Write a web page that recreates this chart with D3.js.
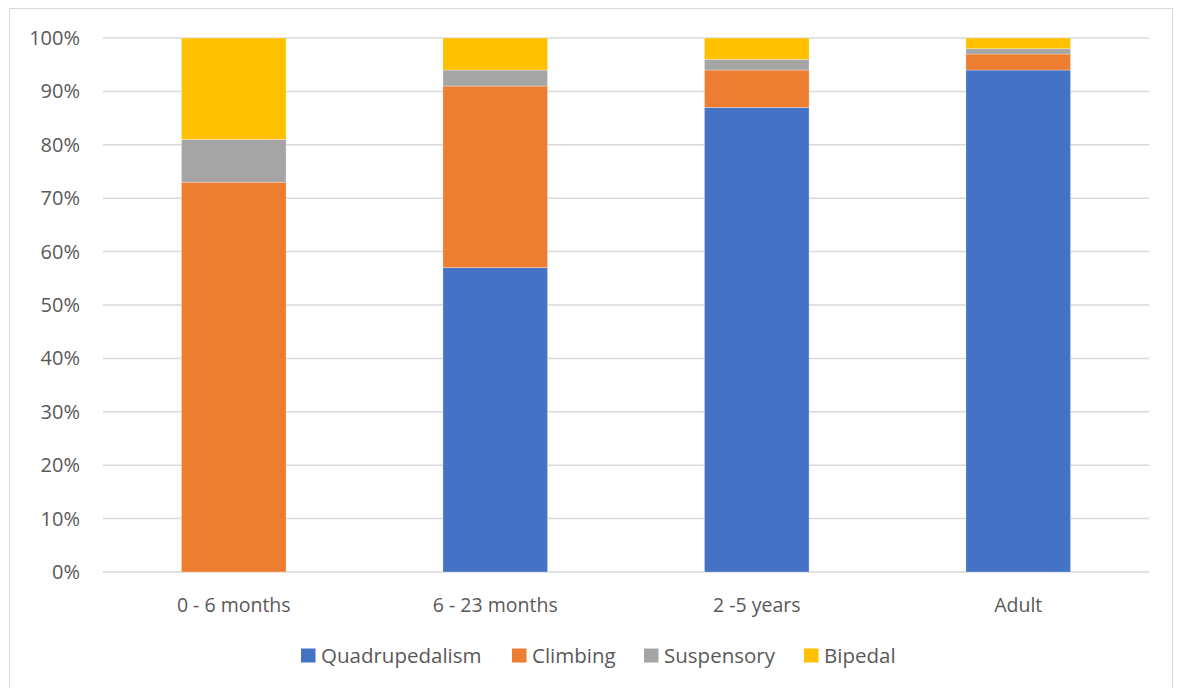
<!DOCTYPE html>
<html>
<head>
<meta charset="utf-8">
<script src="https://cdn.jsdelivr.net/npm/d3@7"></script>
<style>
  body { margin: 0; background: #fff; }
  text { font-family: "Open Sans", Lato, sans-serif; fill: #595959; }
</style>
</head>
<body>
<div id="chart"></div>
<script>
// data
const categories = ["0 - 6 months", "6 - 23 months", "2 -5 years", "Adult"];
const seriesNames = ["Quadrupedalism", "Climbing", "Suspensory", "Bipedal"];
const quadrupedalism = [0, 57, 87, 94];
const climbing = [73, 34, 7, 3];
const suspensory = [8, 3, 2, 1];
const bipedal = [19, 6, 4, 2];
const yTicks = [0, 10, 20, 30, 40, 50, 60, 70, 80, 90, 100];

const colors = ["#4472c4", "#ed7d31", "#a5a5a5", "#ffc000"];

const width = 1182, height = 688;
const margin = {top: 38, right: 33, bottom: 116, left: 103};

var rows = categories.map(function(c, i) {
  return {cat: c, Quadrupedalism: quadrupedalism[i], Climbing: climbing[i],
          Suspensory: suspensory[i], Bipedal: bipedal[i]};
});

var svg = d3.select("#chart").append("svg")
  .attr("width", width)
  .attr("height", height);

// outer frame
svg.append("rect")
  .attr("x", 9.5).attr("y", 8.5)
  .attr("width", width - 19).attr("height", height)
  .attr("fill", "none")
  .attr("stroke", "#d9d9d9");

var x = d3.scaleBand()
  .domain(categories)
  .range([margin.left, width - margin.right])
  .paddingInner(0.6)
  .paddingOuter(0.3);

var y = d3.scaleLinear()
  .domain([0, 100])
  .range([height - margin.bottom, margin.top]);

// gridlines
svg.append("g")
  .selectAll("line")
  .data(yTicks)
  .enter().append("line")
  .attr("x1", margin.left)
  .attr("x2", width - margin.right)
  .attr("y1", d => y(d))
  .attr("y2", d => y(d))
  .attr("stroke", "#d9d9d9")
  .attr("stroke-width", 1.5);

// y labels
svg.append("g")
  .selectAll("text")
  .data(yTicks)
  .enter().append("text")
  .attr("x", 80)
  .attr("y", d => y(d))
  .attr("dy", "0.35em")
  .attr("text-anchor", "end")
  .style("font-size", "20px")
  .text(d => d + "%");

var stack = d3.stack().keys(seriesNames);
var layers = stack(rows);

svg.append("g")
  .selectAll("g")
  .data(layers)
  .enter().append("g")
  .attr("fill", (d, i) => colors[i])
  .selectAll("rect")
  .data(d => d)
  .enter().append("rect")
  .attr("x", d => x(d.data.cat))
  .attr("width", x.bandwidth())
  .attr("y", d => y(d[1]))
  .attr("height", d => y(d[0]) - y(d[1]))
  .attr("stroke", "#fff")
  .attr("stroke-opacity", 0.35)
  .attr("stroke-width", 0.8);

// x labels
svg.append("g")
  .selectAll("text")
  .data(categories)
  .enter().append("text")
  .attr("x", d => x(d) + x.bandwidth() / 2)
  .attr("y", 605)
  .attr("dy", "0.35em")
  .attr("text-anchor", "middle")
  .style("font-size", "19.5px")
  .text(d => d);

// legend
var legendX = [301, 512, 644, 804];
var legend = svg.append("g")
  .selectAll("g")
  .data(seriesNames)
  .enter().append("g")
  .attr("transform", (d, i) => "translate(" + legendX[i] + ",656)");
legend.append("rect")
  .attr("x", 0).attr("y", -7.5)
  .attr("width", 14.5).attr("height", 14)
  .attr("fill", (d, i) => colors[i]);
legend.append("text")
  .attr("x", 20)
  .attr("y", 0)
  .attr("dy", "0.35em")
  .style("font-size", "20.5px")
  .text(d => d);
</script>
</body>
</html>
